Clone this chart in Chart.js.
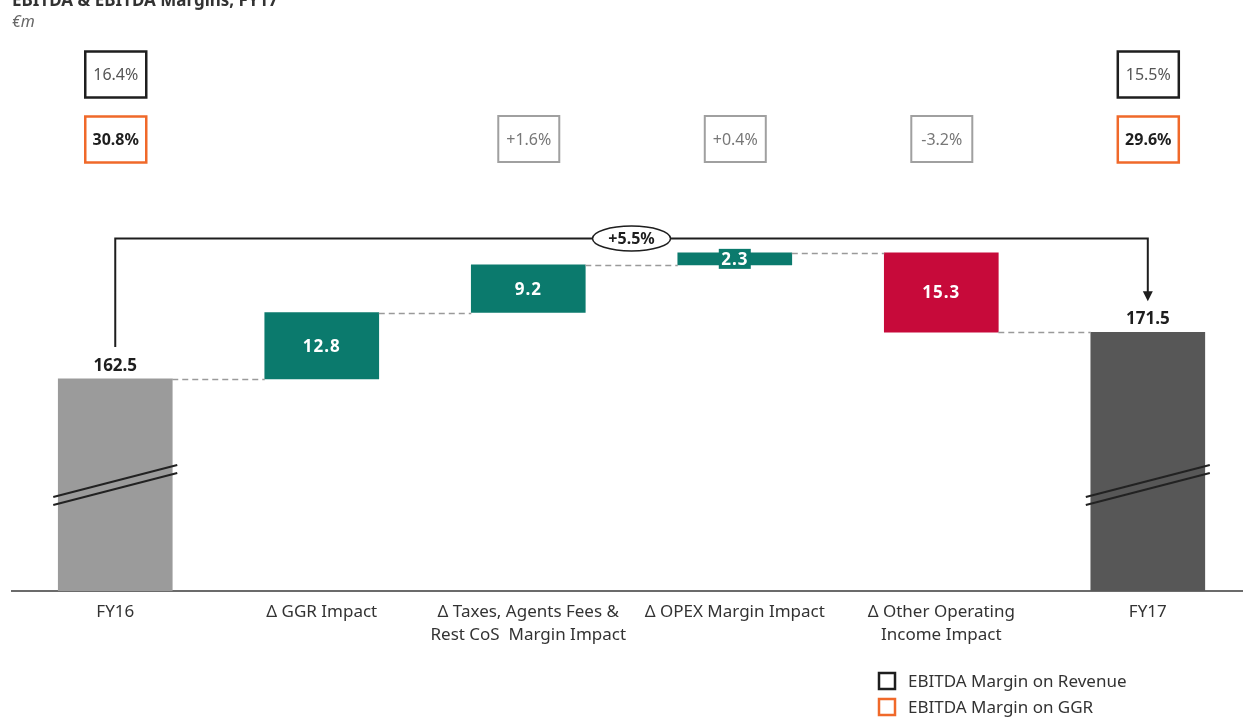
<!DOCTYPE html>
<html><head><meta charset="utf-8">
<script src="https://cdn.jsdelivr.net/npm/chart.js@4.4.0/dist/chart.umd.min.js"></script>
<style>html,body{margin:0;padding:0;background:#fff;}#wrap{width:1243px;height:717px;position:relative;}</style>
</head><body><div id="wrap"><canvas id="c" width="1243" height="717"></canvas></div>
<script>
// ---- data ----
const titleText = 'EBITDA & EBITDA Margins, FY17';
const unitText = '€m';
const categories = [
  ['FY16'],
  ['Δ GGR Impact'],
  ['Δ Taxes, Agents Fees &', 'Rest CoS  Margin Impact'],
  ['Δ OPEX Margin Impact'],
  ['Δ Other Operating', 'Income Impact'],
  ['FY17']
];
const barKinds = ['total', 'delta', 'delta', 'delta', 'delta', 'total'];
const values = [162.5, 12.8, 9.2, 2.3, -15.3, 171.5];
const marginOnRevenue = ['16.4%', null, null, null, null, '15.5%'];
const marginOnGGR = ['30.8%', null, '+1.6%', '+0.4%', '-3.2%', '29.6%'];
const totalChangeLabel = '+5.5%';
const legendLabels = ['EBITDA Margin on Revenue', 'EBITDA Margin on GGR'];
const axisBreakBase = 121.6;   // broken axis start
const axisTop = 197.0;

// ---- derived floating bars ----
const ends = [];
const bars = [];
let run = 0;
values.forEach((v, i) => {
  if (barKinds[i] === 'total') { bars.push({x: i, y: [axisBreakBase, v]}); run = v; }
  else { const s = run; run = +(run + v).toFixed(2); bars.push({x: i, y: [Math.min(s, run), Math.max(s, run)]}); }
  ends.push(run);
});
const C_TEAL = '#0b7a6d', C_RED = '#c70a3a', C_GRAY1 = '#9b9b9b', C_GRAY2 = '#575757';
const barColors = values.map((v, i) => barKinds[i] === 'total' ? (i === 0 ? C_GRAY1 : C_GRAY2) : (v >= 0 ? C_TEAL : C_RED));
const FONT = '"Noto Sans", "Open Sans", sans-serif';

const decor = {
  id: 'decor',
  afterDraw(chart) {
    const ctx = chart.ctx, xs = chart.scales.x, ys = chart.scales.y;
    const px = i => xs.getPixelForValue(i), py = v => ys.getPixelForValue(v);
    const half = 57;
    ctx.save();
    // connectors
    ctx.setLineDash([6, 4]); ctx.strokeStyle = '#9a9a9a'; ctx.lineWidth = 1.5;
    for (let i = 0; i < values.length - 1; i++) {
      const y = Math.round(py(ends[i])) + 0.5;
      ctx.beginPath(); ctx.moveTo(px(i) + half, y); ctx.lineTo(px(i + 1) - half, y); ctx.stroke();
    }
    ctx.setLineDash([]);
    // break marks
    ctx.strokeStyle = '#222'; ctx.lineWidth = 2;
    barKinds.forEach((k, i) => {
      if (k !== 'total') return;
      const yc = ys.bottom - 110, x = px(i);
      for (const off of [0, 8]) {
        ctx.beginPath(); ctx.moveTo(x - 62, yc + 16 + off); ctx.lineTo(x + 62, yc - 16 + off); ctx.stroke();
      }
    });
    // value labels
    ctx.textAlign = 'center'; ctx.textBaseline = 'middle';
    values.forEach((v, i) => {
      const x = px(i);
      if (barKinds[i] === 'total') {
        ctx.font = 'bold 17px ' + FONT; ctx.fillStyle = '#1e1e1e';
        ctx.fillText(v.toFixed(1), x, py(v) - 13);
      } else {
        const [lo, hi] = bars[i].y;
        const yc = (py(lo) + py(hi)) / 2;
        const h = py(lo) - py(hi);
        if (h < 22) { ctx.fillStyle = barColors[i]; ctx.fillRect(x - 16, yc - 10, 32, 20); }
        ctx.font = 'bold 17px ' + FONT; ctx.fillStyle = '#fff';
        ctx.letterSpacing = '1px';
        ctx.fillText(Math.abs(v).toFixed(1), x, yc + 1);
        ctx.letterSpacing = '0px';
      }
    });
    // margin boxes
    const box = (x, yc, txt, stroke, lw, color, bold) => {
      ctx.strokeStyle = stroke; ctx.lineWidth = lw;
      ctx.strokeRect(x - 30, yc - 23, 61, 46);
      ctx.font = (bold ? 'bold ' : '') + '16px ' + FONT; ctx.fillStyle = color;
      ctx.fillText(txt, x + 0.5, yc + 1);
    };
    values.forEach((v, i) => {
      const x = px(i);
      if (marginOnRevenue[i]) box(x, 74.5, marginOnRevenue[i], '#1e1e1e', 2.5, '#555', false);
      if (marginOnGGR[i]) {
        if (barKinds[i] === 'total') box(x, 139.5, marginOnGGR[i], '#f0692a', 2.5, '#1e1e1e', true);
        else box(x, 139, marginOnGGR[i], '#a0a0a0', 2, '#777', false);
      }
    });
    // bracket
    const x0 = px(0), x1 = px(values.length - 1);
    const yTop = Math.round(py(Math.max(...ends)) - 15) + 0.5;
    const yStart = py(values[0]) - 32;
    const tip = py(values[values.length - 1]) - 31;
    ctx.strokeStyle = '#1e1e1e'; ctx.lineWidth = 2;
    ctx.beginPath(); ctx.moveTo(x0, yStart); ctx.lineTo(x0, yTop); ctx.lineTo(x1, yTop); ctx.lineTo(x1, tip - 9); ctx.stroke();
    ctx.fillStyle = '#1e1e1e';
    ctx.beginPath(); ctx.moveTo(x1 - 5, tip - 10); ctx.lineTo(x1 + 5, tip - 10); ctx.lineTo(x1, tip); ctx.closePath(); ctx.fill();
    const xm = (x0 + x1) / 2;
    ctx.beginPath(); ctx.ellipse(xm, yTop, 39, 12.5, 0, 0, Math.PI * 2);
    ctx.fillStyle = '#fff'; ctx.fill(); ctx.lineWidth = 1.5; ctx.stroke();
    ctx.fillStyle = '#1e1e1e'; ctx.font = 'bold 16px ' + FONT;
    ctx.fillText(totalChangeLabel, xm, yTop + 1);
    // legend
    ctx.textAlign = 'left';
    [['#1e1e1e', 681], ['#f0692a', 707]].forEach(([c, y], k) => {
      ctx.strokeStyle = c; ctx.lineWidth = 2.5; ctx.strokeRect(879, y - 8, 16, 16);
      ctx.fillStyle = '#333'; ctx.font = '17px ' + FONT;
      ctx.fillText(legendLabels[k], 908, y + 1);
    });
    // title
    ctx.textBaseline = 'alphabetic';
    ctx.fillStyle = '#333'; ctx.font = 'bold 17px ' + FONT;
    ctx.fillText(titleText, 12, 6);
    ctx.fillStyle = '#666'; ctx.font = 'italic 16px ' + FONT;
    ctx.fillText(unitText, 12, 27);
    ctx.restore();
  }
};

new Chart(document.getElementById('c'), {
  type: 'bar',
  data: { datasets: [{ data: bars, backgroundColor: barColors, borderWidth: 0, barThickness: 114 }] },
  options: {
    responsive: false, animation: false,
    layout: { padding: { top: 200, left: 12, right: 0, bottom: 0 } },
    plugins: { legend: { display: false }, tooltip: { enabled: false } },
    scales: {
      x: {
        type: 'linear', min: -0.5, max: 5.461, offset: false,
        grid: { display: false, drawTicks: false },
        border: { display: true, color: '#6b6b6b', width: 2 },
        afterBuildTicks: s => { s.ticks = categories.map((_, i) => ({ value: i })); },
        afterFit: s => { s.height = 126; },
        ticks: {
          autoSkip: false, maxRotation: 0, padding: 10, color: '#333',
          font: { family: FONT, size: 17, lineHeight: 1.35 },
          callback: v => categories[v]
        }
      },
      y: { display: false, min: axisBreakBase, max: axisTop }
    }
  },
  plugins: [decor]
});
</script></body></html>
